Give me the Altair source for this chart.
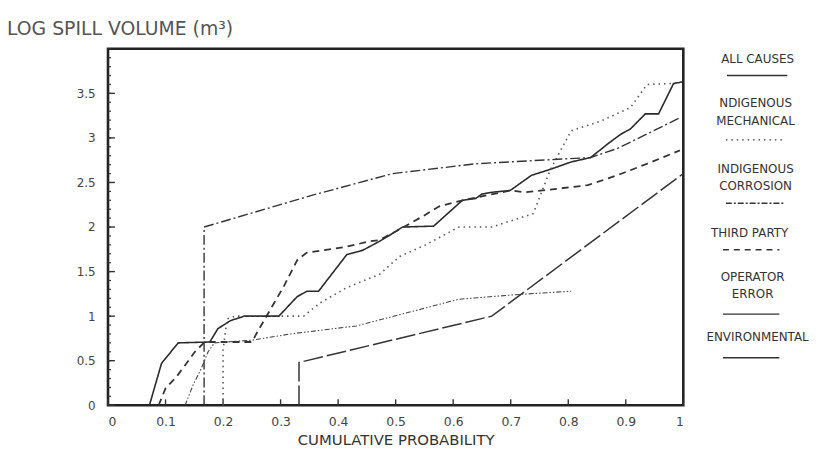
import altair as alt
import pandas as pd

# ---------------- data ----------------
x_all = [0.072, 0.093, 0.122, 0.177, 0.191, 0.213, 0.237, 0.297, 0.329, 0.346, 0.366, 0.415, 0.443,
         0.472, 0.495, 0.512, 0.566, 0.616, 0.639, 0.650, 0.667, 0.699, 0.736, 0.770, 0.805, 0.839,
         0.868, 0.891, 0.908, 0.934, 0.957, 0.983, 1.0]
y_all = [0.0, 0.47, 0.70, 0.71, 0.86, 0.95, 1.0, 1.0, 1.22, 1.28, 1.28, 1.69, 1.74,
         1.84, 1.93, 2.0, 2.01, 2.30, 2.32, 2.37, 2.39, 2.41, 2.58, 2.65, 2.73, 2.78,
         2.93, 3.04, 3.10, 3.27, 3.27, 3.61, 3.63]

x_mech = [0.200, 0.200, 0.207, 0.222, 0.340, 0.369, 0.415, 0.472, 0.507, 0.552, 0.610, 0.667,
          0.739, 0.753, 0.768, 0.785, 0.805, 0.857, 0.908, 0.937, 0.977, 1.0]
y_mech = [0.0, 0.62, 0.97, 1.0, 1.0, 1.15, 1.32, 1.47, 1.67, 1.80, 2.0, 2.0,
          2.15, 2.38, 2.63, 2.84, 3.08, 3.19, 3.34, 3.60, 3.61, 3.63]

x_corr = [0.167, 0.167, 0.357, 0.495, 0.587, 0.639, 0.782, 0.839, 0.885, 0.942, 0.995]
y_corr = [0.0, 2.0, 2.36, 2.60, 2.67, 2.71, 2.76, 2.78, 2.88, 3.06, 3.23]

x_tp = [0.088, 0.100, 0.119, 0.134, 0.151, 0.168, 0.250, 0.263, 0.289, 0.306, 0.329, 0.345, 0.415,
        0.455, 0.470, 0.500, 0.547, 0.575, 0.616, 0.700, 0.725, 0.782, 0.834, 0.885, 0.937, 0.994]
y_tp = [0.0, 0.19, 0.32, 0.45, 0.60, 0.71, 0.71, 0.86, 1.15, 1.34, 1.63, 1.71, 1.78,
        1.84, 1.85, 1.95, 2.12, 2.23, 2.30, 2.41, 2.39, 2.43, 2.47, 2.58, 2.71, 2.86]

x_op = [0.332, 0.332, 0.667, 1.0]
y_op = [0.0, 0.48, 1.0, 2.60]

x_env = [0.134, 0.148, 0.162, 0.174, 0.185, 0.250, 0.317, 0.432, 0.545, 0.610, 0.707, 0.805]
y_env = [0.0, 0.23, 0.41, 0.60, 0.70, 0.73, 0.80, 0.89, 1.08, 1.19, 1.24, 1.28]

x_ticks = [0, 0.1, 0.2, 0.3, 0.4, 0.5, 0.6, 0.7, 0.8, 0.9, 1]
y_ticks = [0, 0.5, 1, 1.5, 2, 2.5, 3, 3.5]
y_minor = [i / 10 for i in range(0, 41)]

y_title = "LOG SPILL VOLUME (m³)"
x_title = "CUMULATIVE PROBABILITY"

series = [
    ("ALL CAUSES", x_all, y_all),
    ("INDIGENOUS MECHANICAL", x_mech, y_mech),
    ("INDIGENOUS CORROSION", x_corr, y_corr),
    ("THIRD PARTY", x_tp, y_tp),
    ("OPERATOR ERROR", x_op, y_op),
    ("ENVIRONMENTAL", x_env, y_env),
]

# ---------------- styles ----------------
styles = {
    "ALL CAUSES": dict(dash=[1, 0], width=1.6, color="#2a2a2a"),
    "INDIGENOUS MECHANICAL": dict(dash=[1.5, 4], width=1.6, color="#555555"),
    "INDIGENOUS CORROSION": dict(dash=[10, 3, 2, 3], width=1.4, color="#333333"),
    "THIRD PARTY": dict(dash=[7, 5], width=1.8, color="#333333"),
    "OPERATOR ERROR": dict(dash=[20, 4], width=1.5, color="#333333"),
    "ENVIRONMENTAL": dict(dash=[5, 2, 1.5, 2, 1.5, 2], width=1.1, color="#444444"),
}
legend_sample_dash = {
    "ALL CAUSES": [1, 0],
    "INDIGENOUS MECHANICAL": [1.5, 4],
    "INDIGENOUS CORROSION": [6, 2, 2, 2],
    "THIRD PARTY": [6, 5],
    "OPERATOR ERROR": [1, 0],
    "ENVIRONMENTAL": [1, 0],
}
# legend layout (pixels, relative to the plot area)
legend_text_layout = [
    ("ALL CAUSES", 656, 10),
    ("NDIGENOUS", 654, 55), ("MECHANICAL", 654, 73),
    ("INDIGENOUS", 654, 121), ("CORROSION", 654, 139),
    ("THIRD PARTY", 648, 186),
    ("OPERATOR", 651, 231), ("ERROR", 651, 248),
    ("ENVIRONMENTAL", 656, 291),
]
legend_rule_layout = {
    "ALL CAUSES": (625, 686, 27),
    "INDIGENOUS MECHANICAL": (624, 683, 92),
    "INDIGENOUS CORROSION": (624, 683, 156),
    "THIRD PARTY": (621, 678, 203),
    "OPERATOR ERROR": (621, 678, 268),
    "ENVIRONMENTAL": (621, 678, 312),
}

W, H = 581, 360
FONT = "DejaVu Sans"
xs = alt.Scale(domain=[0, 1], nice=False, zero=False)
ys = alt.Scale(domain=[0, 4], nice=False, zero=False)

ax_x = alt.Axis(values=x_ticks, format="~g", title=x_title, tickSize=0, domain=False, grid=False,
                labelPadding=10, labelFontSize=12.5, labelFont=FONT, labelColor="#444444",
                titleFont=FONT, titleFontSize=15, titleFontWeight="normal",
                titleColor="#333333", titlePadding=5)
ax_y = alt.Axis(values=y_ticks, format="~g", title=None, tickSize=0, domain=False, grid=False,
                labelPadding=13, labelFontSize=12, labelFont=FONT, labelColor="#444444")

layers = []

# inward ticks
xt_df = pd.DataFrame({"x": x_ticks})
layers.append(alt.Chart(xt_df).mark_rule(color="#333333", strokeWidth=1.4).encode(
    x=alt.X("x:Q", scale=xs, axis=ax_x), y=alt.value(H), y2=alt.value(H - 6)))
ymin_df = pd.DataFrame({"y": y_minor})
layers.append(alt.Chart(ymin_df).mark_rule(color="#333333", strokeWidth=1.2).encode(
    y=alt.Y("y:Q", scale=ys, axis=ax_y), x=alt.value(0), x2=alt.value(3)))
yt_df = pd.DataFrame({"y": y_ticks})
layers.append(alt.Chart(yt_df).mark_rule(color="#333333", strokeWidth=1.4).encode(
    y=alt.Y("y:Q", scale=ys, axis=ax_y), x=alt.value(0), x2=alt.value(7)))

# data series
for name, xv, yv in series:
    st = styles[name]
    df = pd.DataFrame({"x": xv, "y": yv, "i": list(range(len(xv))), "series": name})
    layers.append(
        alt.Chart(df).mark_line(color=st["color"], strokeWidth=st["width"],
                                strokeDash=st["dash"], strokeCap="butt").encode(
            x=alt.X("x:Q", scale=xs, axis=ax_x),
            y=alt.Y("y:Q", scale=ys, axis=ax_y),
            order="i:Q",
        )
    )

# legend text
lt_df = pd.DataFrame(legend_text_layout, columns=["t", "px", "py"])
layers.append(
    alt.Chart(lt_df).mark_text(font=FONT, fontSize=12, color="#333333", align="center",
                               baseline="middle").encode(
        x=alt.X("px:Q", scale=None), y=alt.Y("py:Q", scale=None), text="t:N")
)
# legend samples
for name, _, _ in series:
    x0, x1, yy = legend_rule_layout[name]
    d = pd.DataFrame({"series": [name]})
    layers.append(
        alt.Chart(d).mark_rule(color="#333333", strokeWidth=1.4,
                               strokeDash=legend_sample_dash[name]).encode(
            x=alt.value(x0), x2=alt.value(x1), y=alt.value(yy))
    )

# y title at top-left
layers.append(
    alt.Chart(pd.DataFrame({"t": [y_title]})).mark_text(
        font=FONT, fontSize=19, color="#555555", align="left", baseline="middle").encode(
        x=alt.value(-102), y=alt.value(-20), text="t:N")
)

chart = alt.layer(*layers).properties(
    width=W, height=H,
    autosize=alt.AutoSizeParams(type="none"),
    padding={"left": 101, "top": 39, "right": 134, "bottom": 46},
    background="white",
).configure_view(stroke="#222222", strokeWidth=2.6)

chart.save("out.html", embed_options={"renderer": "svg", "actions": False})
